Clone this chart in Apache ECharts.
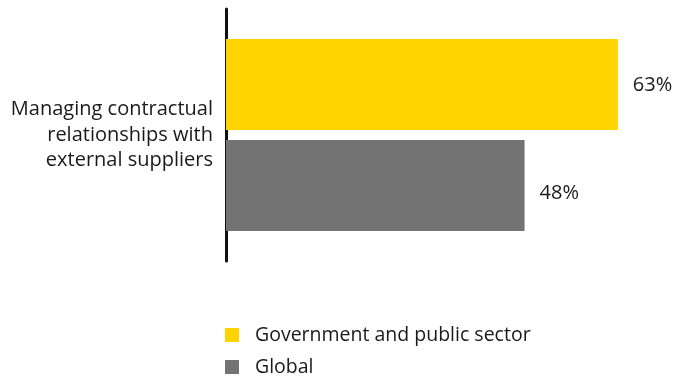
<!DOCTYPE html>
<html>
<head>
<meta charset="utf-8">
<script src="https://cdn.jsdelivr.net/npm/echarts@6/dist/echarts.min.js"></script>
<style>
  html, body { margin: 0; padding: 0; background: #fff; }
  #chart { width: 689px; height: 376px; }
</style>
</head>
<body>
<div id="chart"></div>
<script>
// Survey item and the share of respondents per group
const categories = ['Managing contractual\nrelationships with\nexternal suppliers'];
const seriesNames = ['Government and public sector', 'Global'];
const governmentValues = [63];
const globalValues = [48];
const seriesColors = ['#FFD400', '#737373'];

const FONT = 'Open Sans, Noto Sans, sans-serif';
const TEXT = '#1a1a1a';
const FS = 20;

const chart = echarts.init(document.getElementById('chart'), null, { renderer: 'canvas' });

function valueLabel(offsetY) {
  return {
    show: true,
    position: 'right',
    distance: 15,
    offset: [0, offsetY],
    formatter: '{c}%',
    color: TEXT,
    fontFamily: FONT,
    fontSize: FS
  };
}

// one legend block per row, stacked
function legendRow(name, top) {
  return {
    orient: 'vertical',
    left: 225,
    top: top,
    padding: 0,
    icon: 'rect',
    itemWidth: 14,
    itemHeight: 14,
    textStyle: { color: TEXT, fontFamily: FONT, fontSize: 19.5, padding: [0, 0, 0, 11] },
    data: [name]
  };
}

chart.setOption({
  animation: false,
  grid: { left: 226, top: 9, width: 435.4, height: 252, containLabel: false },
  xAxis: {
    type: 'value',
    min: 0,
    max: 70,
    show: false
  },
  yAxis: {
    type: 'category',
    inverse: true,
    data: categories,
    axisLine: { show: true, lineStyle: { color: '#111', width: 3 } },
    axisTick: { show: false },
    axisLabel: {
      color: TEXT,
      fontFamily: FONT,
      fontSize: FS,
      lineHeight: 25.5,
      align: 'right',
      margin: 13
    }
  },
  legend: [legendRow(seriesNames[0], 325), legendRow(seriesNames[1], 357)],
  series: [
    {
      name: seriesNames[0],
      type: 'bar',
      data: governmentValues,
      barWidth: 91,
      barGap: '11%',
      itemStyle: { color: seriesColors[0] },
      label: valueLabel(1)
    },
    {
      name: seriesNames[1],
      type: 'bar',
      data: globalValues,
      barWidth: 91,
      barGap: '11%',
      itemStyle: { color: seriesColors[1] },
      label: valueLabel(8)
    }
  ]
});
</script>
</body>
</html>
